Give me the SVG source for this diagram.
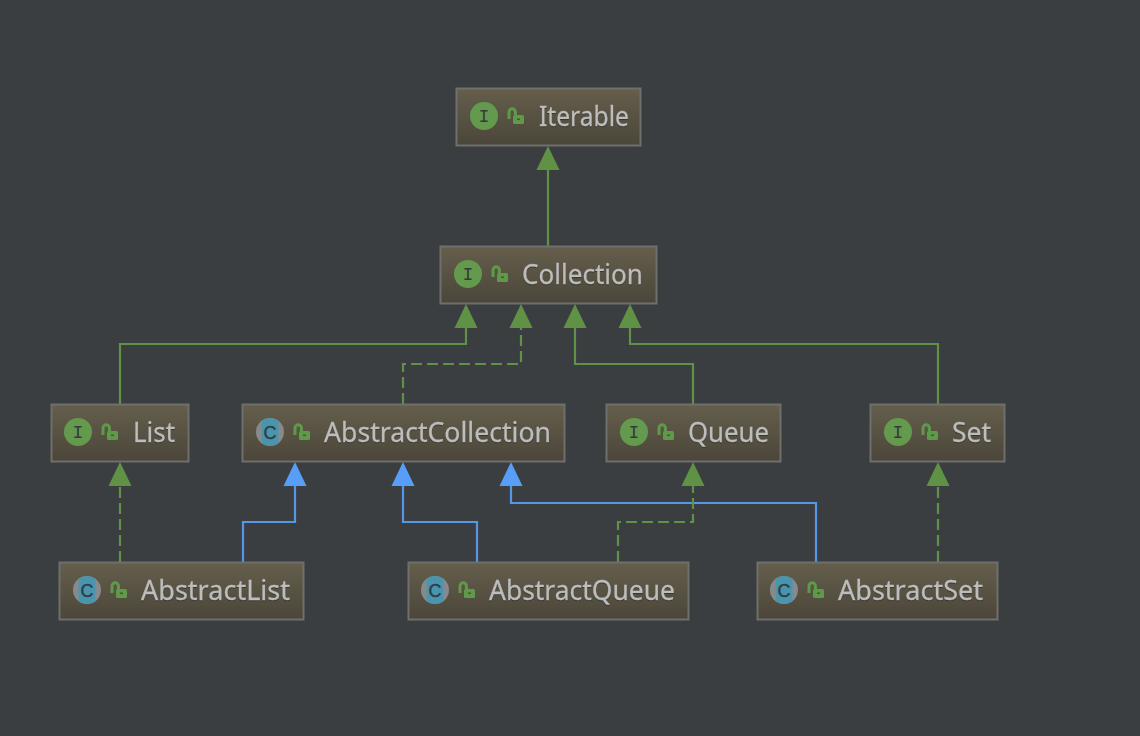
<svg xmlns="http://www.w3.org/2000/svg" width="1140" height="736" viewBox="0 0 1140 736">
<style>
.box{fill:url(#g);stroke:#6f6f6b;stroke-width:2}
.lbl{font-family:"Noto Sans","Liberation Sans",sans-serif;font-size:27px;fill:#bdbdbd;stroke:#bdbdbd;stroke-width:0.300px;filter:drop-shadow(0 1px 0.500px #38382f)}
.ii{font-family:"Liberation Mono",monospace;font-size:18px;fill:#353c3c;text-anchor:middle}
.cc{font-family:"Liberation Sans",sans-serif;font-size:18px;fill:#2f3d45;stroke:#2f3d45;stroke-width:0.400px;text-anchor:middle}
.con{fill:none;stroke-width:2.200}
.gr{stroke:#5f9245}
.bl{stroke:#5596e8}
.da{stroke-dasharray:11 5}
.ag{fill:#5f9245}
.ab{fill:#589df6}
</style>
<defs>
<linearGradient id="g" x1="0" y1="0" x2="0" y2="1"><stop offset="0" stop-color="#655e4c"/><stop offset="1" stop-color="#4b463a"/></linearGradient>
<g id="lock"><path d="M-6 3V-4a3.200 3.200 0 0 1 6.400 0V-1" fill="none" stroke="#5f9a4a" stroke-width="3"/><rect x="-2" y="-1" width="11" height="9" rx="1.500" fill="#5f9a4a"/><rect x="2" y="2.500" width="3" height="1.600" fill="#55513f"/></g>
<g id="iic"><circle r="14" fill="#649a4d"/><text class="ii" y="5.500">I</text></g>
<g id="cic"><circle r="14" fill="#868a8c"/><path d="M-8.500 -11.200A14 14 0 0 1 8.500 -11.200V11.200A14 14 0 0 1 -8.500 11.200Z" fill="#4a95ad"/><text class="cc" y="6.500">C</text></g>
<path id="ah" d="M0 0L11.500 24H-11.500Z"/>
</defs>
<rect width="1140" height="736" fill="#3b3e41"/>
<g id="connectors">
<path class="con gr" d="M548 246V170"/>
<path class="con gr" d="M120 404V344H466V328"/>
<path class="con gr da" d="M403 404V364H521V328"/>
<path class="con gr" d="M693 404V364H575V328"/>
<path class="con gr" d="M938 404V344H630V328"/>
<path class="con gr da" d="M120 562V486"/>
<path class="con bl" d="M243 562V522H295V486"/>
<path class="con bl" d="M477 562V522H403V486"/>
<path class="con bl" d="M816 562V503H511V486"/>
<path class="con gr da" d="M618 562V522H693V486"/>
<path class="con gr da" d="M938 562V486"/>
<use href="#ah" x="548" y="146" class="ag"/>
<use href="#ah" x="466" y="304" class="ag"/>
<use href="#ah" x="521" y="304" class="ag"/>
<use href="#ah" x="575" y="304" class="ag"/>
<use href="#ah" x="630" y="304" class="ag"/>
<use href="#ah" x="120" y="462" class="ag"/>
<use href="#ah" x="295" y="462" class="ab"/>
<use href="#ah" x="403" y="462" class="ab"/>
<use href="#ah" x="511" y="462" class="ab"/>
<use href="#ah" x="693" y="462" class="ag"/>
<use href="#ah" x="938" y="462" class="ag"/>
</g>
<g id="Iterable"><rect class="box" x="456.500" y="88.500" width="184" height="57"/><use href="#iic" x="484" y="116"/><use href="#lock" x="515" y="116"/><text class="lbl" x="539" y="126" textLength="90" lengthAdjust="spacingAndGlyphs">Iterable</text></g>
<g id="Collection"><rect class="box" x="440.500" y="246.500" width="216" height="57"/><use href="#iic" x="468" y="274"/><use href="#lock" x="499" y="274"/><text class="lbl" x="522" y="284" textLength="121" lengthAdjust="spacingAndGlyphs">Collection</text></g>
<g id="List"><rect class="box" x="51.500" y="404.500" width="137" height="57"/><use href="#iic" x="78" y="432"/><use href="#lock" x="109" y="432"/><text class="lbl" x="133" y="442" textLength="42" lengthAdjust="spacingAndGlyphs">List</text></g>
<g id="AbstractCollection"><rect class="box" x="242.500" y="404.500" width="322" height="57"/><use href="#cic" x="270" y="432"/><use href="#lock" x="301" y="432"/><text class="lbl" x="324" y="442" textLength="227" lengthAdjust="spacingAndGlyphs">AbstractCollection</text></g>
<g id="Queue"><rect class="box" x="606.500" y="404.500" width="174" height="57"/><use href="#iic" x="634" y="432"/><use href="#lock" x="665" y="432"/><text class="lbl" x="688" y="442" textLength="81" lengthAdjust="spacingAndGlyphs">Queue</text></g>
<g id="Set"><rect class="box" x="870.500" y="404.500" width="134" height="57"/><use href="#iic" x="898" y="432"/><use href="#lock" x="929" y="432"/><text class="lbl" x="952" y="442" textLength="39" lengthAdjust="spacingAndGlyphs">Set</text></g>
<g id="AbstractList"><rect class="box" x="59.500" y="562.500" width="244" height="57"/><use href="#cic" x="87" y="590"/><use href="#lock" x="118" y="590"/><text class="lbl" x="141" y="600" textLength="149" lengthAdjust="spacingAndGlyphs">AbstractList</text></g>
<g id="AbstractQueue"><rect class="box" x="408.500" y="562.500" width="280" height="57"/><use href="#cic" x="435" y="590"/><use href="#lock" x="466" y="590"/><text class="lbl" x="489" y="600" textLength="186" lengthAdjust="spacingAndGlyphs">AbstractQueue</text></g>
<g id="AbstractSet"><rect class="box" x="757.500" y="562.500" width="240" height="57"/><use href="#cic" x="784" y="590"/><use href="#lock" x="815" y="590"/><text class="lbl" x="838" y="600" textLength="145" lengthAdjust="spacingAndGlyphs">AbstractSet</text></g>
</svg>
